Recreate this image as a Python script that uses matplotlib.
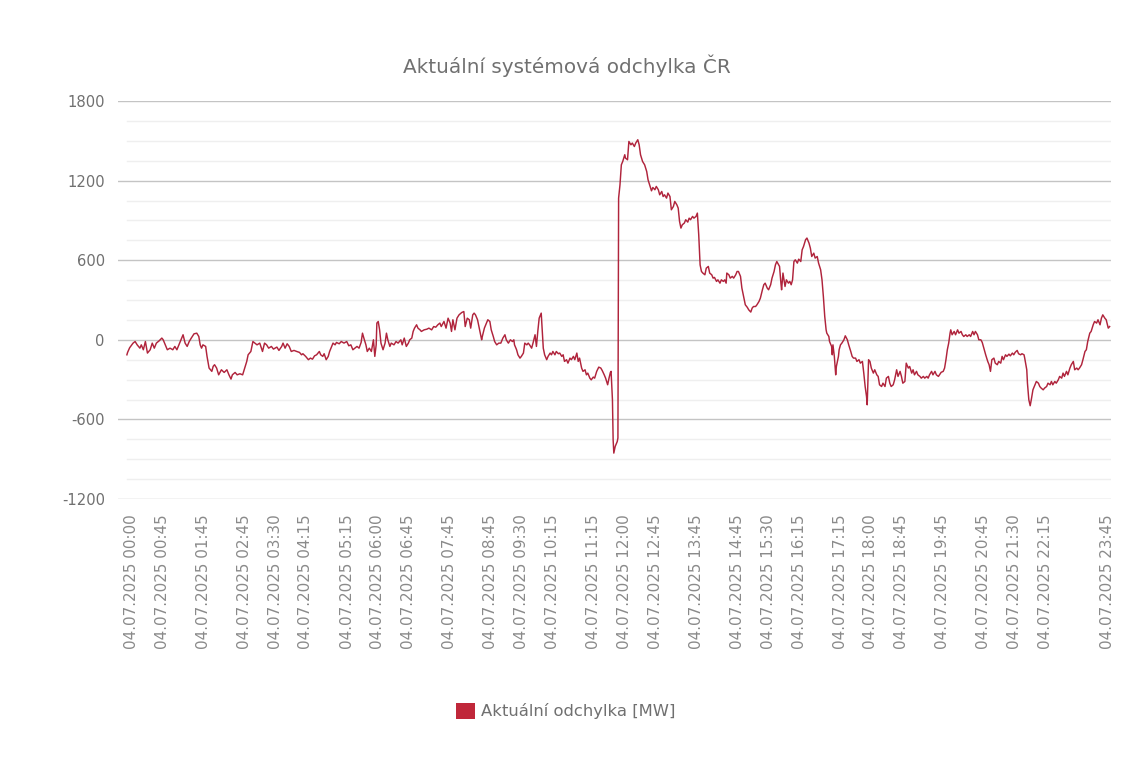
import matplotlib
matplotlib.use("Agg")
import matplotlib.pyplot as plt
from matplotlib.patches import Patch

# ---------------- data ----------------
title = "Aktuální systémová odchylka ČR"
series_name = "Aktuální odchylka [MW]"
date_label = "04.07.2025"

# minutes after midnight
minutes = [
    0, 1, 4, 9, 12, 15, 19, 21, 24, 27, 30, 34, 37, 40, 43, 47, 51, 53, 55, 59,
    63, 67, 70, 73, 76, 80, 82, 85, 88, 91, 94, 98, 102, 105, 107, 109, 111, 115, 117, 120,
    124, 126, 128, 131, 134, 138, 142, 146, 149, 152, 154, 158, 161, 165, 169, 172, 175, 177, 181, 184,
    187, 190, 194, 198, 201, 204, 207, 211,
    214, 219, 222, 226, 228, 231, 234, 237, 240, 244, 248, 252, 255, 257, 261, 265, 268, 271, 274, 277,
    281, 283, 286, 288, 291, 294, 296, 299, 301, 304, 306, 310, 313, 317, 321, 324, 327, 330, 333, 336,
    339, 342, 344, 346, 349, 351, 354, 357, 360, 362, 364, 365, 367, 369, 371, 374, 377, 379, 381, 384,
    386, 390, 393, 396, 400, 402, 405, 408, 411, 413, 416, 418, 420, 423, 425, 428, 430, 434, 438, 441,
    445, 448, 451, 454,
    457, 459, 463, 466, 469, 472, 474, 476, 479, 482, 485, 489, 492, 494, 497, 500, 502, 505, 507, 509,
    512, 514, 518, 519, 522, 525, 527, 530, 532, 535, 537, 540, 543, 546, 549, 552, 554, 557, 560, 563,
    565, 566, 569, 571, 574, 576, 579, 581, 584, 586, 588, 591, 593, 596, 598, 600, 602, 605, 608, 610,
    613, 615, 618, 620, 622, 625, 627, 630, 632, 635, 637, 639, 642, 644, 647, 649, 652, 654, 657, 659,
    661, 664, 666, 669, 671, 673, 676, 678, 681, 683, 686, 689, 692, 694, 697, 699, 702, 704, 706, 707,
    709, 710, 711, 713, 716, 717,
    718, 720, 722, 724, 727, 728, 731, 733, 736, 738, 741, 743, 746, 748, 750, 753, 756, 759, 761, 764,
    766, 768, 771, 773, 776, 778, 781, 783, 785, 788, 790, 793, 795, 798, 800, 803, 805, 807, 809, 811,
    814, 816, 819, 821, 823, 826, 828, 831, 833, 835, 837, 839, 841, 844, 846, 849, 851, 854, 856, 858,
    861, 863, 866, 868, 871, 873, 875, 876, 879, 881, 884, 886, 889, 891, 893, 896, 898, 901, 903, 906,
    908, 911, 913, 915, 918, 920, 923, 925, 928, 930, 932, 935, 937, 940, 942, 945, 947, 949,
    953, 955, 956, 958, 961, 963, 966, 968, 970, 972, 974, 976, 979, 981, 984, 986, 988, 991, 993, 996,
    998, 1000, 1003, 1005, 1008, 1010, 1013, 1015, 1017, 1019, 1021, 1022, 1025, 1026, 1029, 1030, 1031, 1033, 1035, 1036,
    1039, 1040, 1042, 1044, 1047, 1049, 1052, 1054, 1057, 1059, 1061, 1064, 1066, 1069, 1071, 1074, 1076, 1078, 1080, 1081,
    1083, 1085, 1087, 1090, 1092, 1095, 1097, 1099, 1102, 1104, 1107, 1109, 1112, 1114, 1116, 1119, 1121, 1124, 1126, 1129,
    1131, 1133, 1136, 1138, 1141, 1143, 1146, 1148, 1150, 1153, 1155, 1158, 1160, 1163, 1165, 1168, 1170, 1172, 1175, 1177,
    1180, 1182, 1185, 1187, 1189, 1192, 1194,
    1196, 1198, 1200, 1202, 1203, 1205, 1208, 1210, 1213, 1215, 1218, 1220, 1222, 1225, 1227, 1230, 1232, 1235, 1237, 1239,
    1242, 1244, 1247, 1249, 1252, 1254, 1257, 1259, 1261, 1263, 1266, 1268, 1271, 1273, 1276, 1278, 1280, 1283, 1285, 1288,
    1290, 1293, 1295, 1297, 1300, 1302, 1305, 1307, 1310, 1311, 1314, 1315, 1317, 1319, 1321, 1323, 1326, 1328, 1331, 1333,
    1335, 1338, 1340, 1343, 1345, 1348, 1350, 1352, 1355, 1357, 1360, 1362, 1365, 1367, 1369, 1372, 1374, 1377, 1379, 1382,
    1384, 1387, 1389, 1391, 1394, 1396, 1399, 1401, 1403, 1406, 1408, 1411, 1413, 1416, 1418, 1421, 1423, 1425, 1428, 1430,
    1433, 1435,
]

deviation_mw = [
    -113, -95, -60, -25, -13, -38, -63, -38, -75, -13, -100, -75, -25, -63, -25, -8, 13, 0, -25, -75,
    -63, -75, -50, -75, -38, 13, 38, -25, -50, -13, 13, 45, 50, 25, -38, -63, -38, -50, -125, -213,
    -238, -200, -188, -213, -264, -226, -246, -226, -264, -296, -264, -246, -264, -256, -264, -213, -163, -113, -88, -13,
    -25, -38, -25, -88, -25, -38, -63, -50,
    -70, -55, -80, -50, -25, -63, -30, -50, -88, -80, -88, -95, -113, -105, -125, -150, -138, -146, -121, -113,
    -88, -113, -125, -105, -150, -125, -88, -50, -25, -38, -20, -30, -13, -25, -13, -45, -38, -75, -63, -50,
    -63, -20, 50, 13, -38, -88, -63, -88, 0, -125, -38, 126, 138, 75, -25, -75, -25, 50, 0, -50,
    -25, -38, -13, -25, 0, -38, 13, -50, -25, 0, 13, 63, 88, 113, 88, 75, 63, 75, 80, 88,
    75, 100, 95, 113,
    126, 100, 138, 88, 163, 126, 63, 151, 75, 163, 188, 206, 213, 100, 163, 151, 88, 188, 201, 188,
    151, 100, 0, 25, 88, 126, 151, 138, 75, 25, -13, -38, -25, -25, 13, 38, 0, -25, 0, -13,
    0, -38, -75, -113, -138, -125, -100, -25, -38, -25, -38, -63, -25, 38, -50, 63, 163, 201, -63, -113,
    -150, -125, -100, -113, -88, -113, -88, -105, -100, -125, -113, -163, -150, -176, -138, -150, -125, -150, -100, -163,
    -138, -213, -238, -226, -264, -251, -289, -302, -281, -289, -238, -206, -213, -231, -264, -289, -339, -289, -246, -238,
    -452, -754, -854, -804, -767, -740,
    1068, 1168, 1319, 1344, 1395, 1370, 1357, 1495, 1470, 1483, 1457, 1483, 1508, 1470, 1395, 1344, 1319, 1269, 1206, 1156,
    1123, 1148, 1131, 1156, 1131, 1093, 1118, 1080, 1093, 1068, 1106, 1080, 980, 1005, 1043, 1018, 993, 892, 842, 867,
    880, 905, 887, 917, 905, 930, 917, 930, 955, 791, 565, 515, 503, 490, 540, 553, 503, 490, 465, 470,
    440, 452, 427, 452, 440, 452, 427, 503, 490, 465, 478, 465, 490, 515, 515, 478, 390, 314, 264, 244,
    226, 209, 239, 251, 251, 264, 289, 314, 377, 415, 427, 390, 377, 415, 465, 515, 565, 590,
    553, 427, 377, 503, 402, 452, 427, 440, 415, 452, 590, 603, 578, 608, 590, 678, 703, 754, 767, 729,
    691, 628, 653, 616, 628, 578, 528, 452, 326, 176, 75, 50, 25, -13, -50, -113, -38, -125, -264, -201,
    -125, -75, -38, -25, 0, 30, 0, -38, -88, -125, -138, -138, -163, -150, -176, -163, -251, -352, -427, -490,
    -150, -163, -213, -251, -226, -264, -276, -339, -352, -327, -352, -289, -276, -327, -352, -339, -302, -226, -276, -238,
    -276, -327, -314, -176, -213, -201, -251, -226, -264, -238, -264, -276, -289, -276, -289, -276, -289, -264, -238, -264,
    -238, -264, -276, -260, -245, -238, -213,
    -150, -75, -25, 50, 75, 38, 63, 38, 75, 50, 63, 38, 25, 38, 25, 38, 25, 63, 38, 63,
    38, 0, 0, -20, -75, -113, -163, -188, -238, -150, -138, -176, -188, -163, -176, -125, -150, -113, -125, -108,
    -121, -100, -113, -95, -80, -105, -113, -105, -113, -138, -226, -327, -452, -497, -440, -377, -339, -314, -327, -352,
    -364, -377, -364, -352, -327, -339, -314, -339, -314, -327, -302, -276, -289, -251, -276, -238, -264, -213, -188, -163,
    -226, -213, -226, -213, -188, -150, -88, -75, -13, 50, 63, 113, 138, 126, 151, 113, 163, 188, 163, 151,
    88, 100,
]

tick_times = ["00:00", "00:45", "01:45", "02:45", "03:30", "04:15", "05:15", "06:00",
              "06:45", "07:45", "08:45", "09:30", "10:15", "11:15", "12:00", "12:45",
              "13:45", "14:45", "15:30", "16:15", "17:15", "18:00", "18:45", "19:45",
              "20:45", "21:30", "22:15", "23:45"]
y_ticks = [-1200, -600, 0, 600, 1200, 1800]

# ---------------- plot ----------------
W, H = 1142, 762
fig = plt.figure(figsize=(W / 100, H / 100), dpi=100)
left, right, top, bottom = 118, 1111, 101, 499
ax = fig.add_axes([left / W, 1 - bottom / H, (right - left) / W, (bottom - top) / H])

line_color = "#b0243c"
ax.plot(minutes, deviation_mw, color=line_color, lw=1.05, zorder=3)

xmin, xmax = -13, 1437
ax.set_xlim(xmin, xmax)
ax.set_ylim(-1200, 1800)

# minor grid (every 150) and major grid
for v in range(-1200, 1801, 150):
    if v % 600 == 0:
        ax.axhline(v, color="#c4c4c4", lw=1.0, zorder=1)
    else:
        ax.axhline(v, xmin=(0 - xmin) / (xmax - xmin), xmax=1.0, color="#efefef", lw=1.0, zorder=0)

for s in ax.spines.values():
    s.set_visible(False)

# rotated labels sit slightly right of their tick (as in the original renderer)
label_offset = 6.5  # minutes
tick_pos = [int(t[:2]) * 60 + int(t[3:]) + label_offset for t in tick_times]
ax.set_xticks(tick_pos)
ax.set_xticklabels([f"{date_label} {t}" for t in tick_times], rotation=90,
                   fontsize=10.9, color="#8a8a8a", va="top", ha="center")
ax.set_yticks(y_ticks)
ax.set_yticklabels([str(v) for v in y_ticks], fontsize=10.6, color="#707070")
ax.tick_params(axis="x", length=0, pad=11)
ax.tick_params(axis="y", length=0, pad=9.5)

fig.text(567 / W, 1 - 66 / H, title, ha="center", va="center", fontsize=14.4, color="#707070")

handle = Patch(facecolor="#c0273a", edgecolor="none")
fig.legend([handle], [series_name], loc="center", bbox_to_anchor=(566 / W, 1 - 711 / H),
           frameon=False, fontsize=11.8, labelcolor="#707070",
           handlelength=1.15, handleheight=1.15, handletextpad=0.35)

fig.savefig("out.png", dpi=100, facecolor="white")
